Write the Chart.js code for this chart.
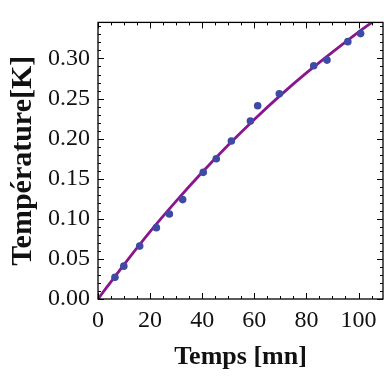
<!DOCTYPE html>
<html>
<head>
<meta charset="utf-8">
<script src="https://cdn.jsdelivr.net/npm/chart.js@4/dist/chart.umd.min.js"></script>
<style>
html,body{margin:0;padding:0;background:#fff;}
canvas{display:block;}
</style>
</head>
<body>
<canvas id="c" width="387" height="376"></canvas>
<script>
// Measured data points
const measTimes = [6.5, 9.9, 16, 22.4, 27.4, 32.5, 40.4, 45.4, 51.2, 58.5, 61.3, 69.6, 82.8, 87.9, 95.9, 100.8];
const measTemps = [0.027, 0.041, 0.066, 0.089, 0.106, 0.124, 0.158, 0.175, 0.197, 0.222, 0.241, 0.256, 0.291, 0.298, 0.321, 0.331];
// Fitted curve
const fitTimes = [0, 10, 20, 30, 40, 50, 60, 70, 80, 90, 100, 110];
const fitTemps = [0, 0.043, 0.084, 0.122, 0.158, 0.192, 0.224, 0.254, 0.282, 0.308, 0.333, 0.356];
// Tick labels
const xTickLabels = [0, 20, 40, 60, 80, 100];
const yTickLabels = [0.00, 0.05, 0.10, 0.15, 0.20, 0.25, 0.30];

const frameTicks = {
  id: 'frameTicks',
  afterDraw(chart) {
    const {ctx, chartArea: a, scales: {x, y}} = chart;
    ctx.save();
    ctx.strokeStyle = '#000';
    ctx.lineWidth = 1;
    ctx.beginPath();
    for (let v = 0; v <= 109; v += 5) {
      const px = Math.round(x.getPixelForValue(v)) + 0.5;
      const len = (v % 20 === 0) ? 6 : 3;
      ctx.moveTo(px, a.bottom); ctx.lineTo(px, a.bottom - len);
      ctx.moveTo(px, a.top); ctx.lineTo(px, a.top + len);
    }
    for (let i = 0; i <= 34; i++) {
      const v = i / 100;
      const py = Math.round(y.getPixelForValue(v)) + 0.5;
      const len = (i % 5 === 0) ? 6 : 3;
      ctx.moveTo(a.left, py); ctx.lineTo(a.left + len, py);
      ctx.moveTo(a.right, py); ctx.lineTo(a.right - len, py);
    }
    ctx.stroke();
    ctx.lineWidth = 1.3;
    ctx.strokeRect(a.left, a.top, a.right - a.left, a.bottom - a.top);
    ctx.restore();
  }
};

new Chart(document.getElementById('c'), {
  type: 'scatter',
  data: {
    datasets: [
      {
        type: 'line',
        data: fitTimes.map((t, i) => ({x: t, y: fitTemps[i]})),
        borderColor: '#8a1590',
        borderWidth: 2.8,
        pointRadius: 0,
        cubicInterpolationMode: 'monotone',
        fill: false,
        order: 2
      },
      {
        data: measTimes.map((t, i) => ({x: t, y: measTemps[i]})),
        backgroundColor: '#3f4ba3',
        borderColor: '#3f4ba3',
        pointRadius: 3.8,
        borderWidth: 0,
        order: 1
      }
    ]
  },
  options: {
    responsive: false,
    animation: false,
    layout: {padding: {top: 9, right: 2, left: 0, bottom: 0}},
    plugins: {legend: {display: false}, tooltip: {enabled: false}},
    scales: {
      x: {
        type: 'linear',
        min: 0, max: 109.4,
        afterFit(s) { s.height = 77; },
        afterBuildTicks(s) { s.ticks = xTickLabels.map(v => ({value: v})); },
        grid: {display: false, drawTicks: false},
        border: {display: false},
        ticks: {
          color: '#111',
          padding: 7,
          maxRotation: 0,
          autoSkip: false,
          font: {family: 'Liberation Serif', size: 24},
          callback: v => String(v)
        },
        title: {
          display: true,
          text: 'Temps [mn]',
          color: '#111',
          padding: {top: 0, bottom: 3},
          font: {family: 'Liberation Serif', size: 26, weight: 'bold'}
        }
      },
      y: {
        type: 'linear',
        min: 0, max: 0.345,
        afterFit(s) { s.width = 98; },
        afterBuildTicks(s) { s.ticks = yTickLabels.map(v => ({value: v})); },
        grid: {display: false, drawTicks: false},
        border: {display: false},
        ticks: {
          color: '#111',
          padding: 8,
          autoSkip: false,
          font: {family: 'Liberation Serif', size: 24},
          callback: v => Number(v).toFixed(2)
        },
        title: {
          display: true,
          text: 'Température[K]',
          color: '#111',
          padding: {top: 5, bottom: 0},
          font: {family: 'Liberation Serif', size: 30, weight: 'bold'}
        }
      }
    }
  },
  plugins: [frameTicks]
});
</script>
</body>
</html>
